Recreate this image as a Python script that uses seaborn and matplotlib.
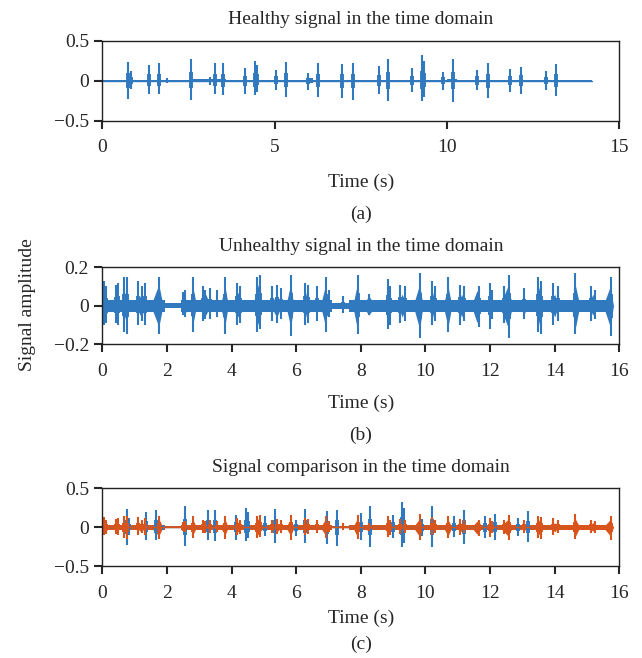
import numpy as np
import pandas as pd
import matplotlib.pyplot as plt
import seaborn as sns

# healthy signal: visible spikes (time s, upper peak, lower peak)
healthy_t = [0.75, 0.82, 1.35, 1.65, 1.88, 2.56, 3.12, 3.26, 3.50, 4.13, 4.44, 4.50,
             5.05, 5.34, 5.98, 6.27, 6.95, 7.27, 8.02, 8.29, 9.00, 9.28, 9.33, 9.90,
             10.19, 10.87, 11.18, 11.83, 12.14, 12.86, 13.16]
healthy_hi = [0.24, 0.12, 0.20, 0.22, 0.03, 0.27, 0.05, 0.22, 0.22, 0.16, 0.25, 0.20,
              0.14, 0.24, 0.10, 0.23, 0.21, 0.22, 0.18, 0.28, 0.16, 0.32, 0.25, 0.11,
              0.28, 0.14, 0.22, 0.15, 0.17, 0.12, 0.21]
healthy_lo = [-0.23, -0.10, -0.16, -0.17, -0.03, -0.24, -0.05, -0.16, -0.18, -0.16, -0.18, -0.14,
              -0.11, -0.20, -0.11, -0.20, -0.22, -0.24, -0.16, -0.25, -0.14, -0.25, -0.20, -0.11,
              -0.26, -0.12, -0.22, -0.14, -0.16, -0.11, -0.19]
healthy_end = 14.2
# low-level hum segments (start, end, level)
healthy_hum = [(0.0, 14.2, 0.005), (2.6, 3.6, 0.018), (4.0, 4.6, 0.014), (5.9, 6.1, 0.03),
               (7.35, 9.9, 0.014), (10.0, 10.3, 0.018), (11.0, 11.3, 0.014), (13.1, 13.5, 0.012)]

# unhealthy signal: spikes
unhealthy_t = [0.05, 0.13, 0.41, 0.48, 0.68, 0.78, 1.10, 1.22, 1.31, 1.77, 2.49, 2.55,
               2.80, 3.11, 3.19, 3.32, 3.55, 3.79, 4.18, 4.26, 4.80, 4.87, 5.26, 5.42,
               5.52, 5.83, 6.28, 6.38, 6.66, 6.92, 7.03, 7.45, 7.90, 8.24, 8.84, 8.91,
               9.22, 9.36, 9.84, 10.20, 10.31, 10.70, 11.08, 11.19, 11.65, 11.99, 12.07,
               12.43, 12.60, 13.05, 13.50, 13.58, 13.95, 14.09, 14.64, 15.12, 15.26, 15.74]
unhealthy_hi = [0.13, 0.10, 0.11, 0.12, 0.15, 0.15, 0.13, 0.10, 0.12, 0.15, 0.07, 0.08,
                0.15, 0.10, 0.08, 0.09, 0.08, 0.15, 0.12, 0.10, 0.15, 0.16, 0.10, 0.11,
                0.09, 0.16, 0.12, 0.11, 0.10, 0.15, 0.08, 0.05, 0.16, 0.06, 0.14, 0.10,
                0.11, 0.10, 0.17, 0.13, 0.10, 0.15, 0.11, 0.10, 0.10, 0.12, 0.08,
                0.10, 0.16, 0.09, 0.15, 0.13, 0.12, 0.10, 0.17, 0.10, 0.08, 0.15]
unhealthy_lo = [-0.10, -0.09, -0.09, -0.10, -0.14, -0.15, -0.10, -0.08, -0.10, -0.15, -0.05, -0.06,
                -0.14, -0.08, -0.07, -0.07, -0.06, -0.15, -0.10, -0.09, -0.14, -0.12, -0.08, -0.09,
                -0.07, -0.16, -0.10, -0.09, -0.08, -0.14, -0.06, -0.04, -0.15, -0.05, -0.12, -0.10,
                -0.09, -0.08, -0.17, -0.10, -0.08, -0.14, -0.10, -0.08, -0.11, -0.12, -0.07,
                -0.09, -0.17, -0.07, -0.14, -0.15, -0.10, -0.08, -0.15, -0.08, -0.07, -0.16]
# dense burst bodies (start, peak, end, upper, lower)
unhealthy_bursts = [
    (0.0, 0.05, 0.25, 0.07, -0.07), (0.6, 0.75, 0.85, 0.09, -0.09), (1.05, 1.2, 1.35, 0.06, -0.06),
    (1.5, 1.75, 1.88, 0.11, -0.11), (2.45, 2.55, 2.65, 0.05, -0.05), (2.7, 2.8, 2.92, 0.10, -0.10),
    (3.05, 3.2, 3.35, 0.06, -0.05), (3.65, 3.8, 3.9, 0.10, -0.10), (4.1, 4.2, 4.35, 0.07, -0.06),
    (4.65, 4.83, 4.95, 0.11, -0.10), (5.2, 5.4, 5.55, 0.06, -0.06), (5.68, 5.83, 5.93, 0.11, -0.11),
    (6.22, 6.32, 6.45, 0.07, -0.06), (6.75, 6.9, 7.0, 0.10, -0.10), (7.75, 7.88, 7.98, 0.10, -0.11),
    (8.05, 8.25, 8.45, 0.05, -0.05), (8.72, 8.85, 8.95, 0.09, -0.09), (9.15, 9.28, 9.42, 0.06, -0.06),
    (9.62, 9.82, 9.93, 0.11, -0.12), (10.15, 10.25, 10.35, 0.07, -0.06), (10.55, 10.7, 10.82, 0.10, -0.11),
    (11.0, 11.12, 11.25, 0.06, -0.06), (11.42, 11.6, 11.72, 0.08, -0.09), (11.92, 12.0, 12.1, 0.06, -0.06),
    (12.3, 12.55, 12.7, 0.10, -0.11), (12.95, 13.05, 13.15, 0.05, -0.05), (13.4, 13.53, 13.65, 0.10, -0.10),
    (13.88, 14.0, 14.12, 0.06, -0.06), (14.5, 14.65, 14.78, 0.10, -0.11), (15.05, 15.18, 15.32, 0.06, -0.05),
    (15.5, 15.72, 15.82, 0.10, -0.11)]
unhealthy_end = 15.82
unhealthy_hum = [(0.0, 1.95, 0.032), (1.95, 2.45, 0.012), (2.45, 7.1, 0.032),
                 (7.1, 7.65, 0.015), (7.65, 15.82, 0.032)]

BLUE = '#3079bf'
ORANGE = '#d9541a'
FS = 14

sns.set_theme(style='ticks')
plt.rcParams['font.family'] = ['Liberation Serif', 'DejaVu Serif']
plt.rcParams['font.size'] = FS
plt.rcParams['axes.unicode_minus'] = True


def spikes_df(t, hi, lo):
    return pd.DataFrame({
        't': list(t) + list(t),
        'amp': list(hi) + list(lo),
        'id': list(range(len(t))) * 2,
    })


def draw_signal(ax, t, hi, lo, hum, end, bursts, color):
    ax.plot([0, end], [0, 0], color=color, lw=1)
    for s, e, lvl in hum:
        ax.fill_between([s, e], [-lvl, -lvl], [lvl, lvl], color=color, lw=0)
    for s, p, e, up, dn in bursts:
        ax.fill_between([s, p, e], [0, dn, 0], [0, up, 0], color=color, lw=0)
    df = spikes_df(t, hi, lo)
    sns.lineplot(data=df, x='t', y='amp', units='id', estimator=None,
                 color=color, lw=1.5, ax=ax, legend=False, solid_capstyle='butt')
    df2 = df.copy()
    df2['amp'] = df2['amp'] * 0.4
    sns.lineplot(data=df2, x='t', y='amp', units='id', estimator=None,
                 color=color, lw=2.8, ax=ax, legend=False, solid_capstyle='butt')


def style_axis(ax, xmax, xstep, ylim, yticks, ylabels, title):
    ax.set_xlim(0, xmax)
    ax.set_ylim(-ylim, ylim)
    ax.set_xticks(np.arange(0, xmax + 0.1, xstep))
    ax.set_yticks(yticks)
    ax.set_yticklabels(ylabels)
    ax.set_title(title, fontsize=FS, pad=12)
    ax.set_xlabel('')
    ax.set_ylabel('')
    for sp in ax.spines.values():
        sp.set_visible(True)
        sp.set_linewidth(1.0)
        sp.set_color('#222222')
    ax.tick_params(direction='out', length=5.5, width=1.5, labelsize=FS,
                   top=False, right=False)
    ax.tick_params(axis='x', pad=8)
    ax.tick_params(axis='y', pad=4)


fig = plt.figure(figsize=(6.42, 6.58), dpi=100)
left, width = 0.1593, 0.8053
ax1 = fig.add_axes([left, 0.8166, width, 0.1211])
ax2 = fig.add_axes([left, 0.4772, width, 0.1166])
ax3 = fig.add_axes([left, 0.1398, width, 0.1178])

draw_signal(ax1, healthy_t, healthy_hi, healthy_lo, healthy_hum, healthy_end, [], BLUE)
style_axis(ax1, 15, 5, 0.5, [-0.5, 0, 0.5], ['\u22120.5', '0', '0.5'],
           'Healthy signal in the time domain')

draw_signal(ax2, unhealthy_t, unhealthy_hi, unhealthy_lo, unhealthy_hum, unhealthy_end,
            unhealthy_bursts, BLUE)
style_axis(ax2, 16, 2, 0.2, [-0.2, 0, 0.2], ['\u22120.2', '0', '0.2'],
           'Unhealthy signal in the time domain')

draw_signal(ax3, healthy_t, healthy_hi, healthy_lo, healthy_hum, healthy_end, [], BLUE)
draw_signal(ax3, unhealthy_t, unhealthy_hi, unhealthy_lo, unhealthy_hum, unhealthy_end,
            unhealthy_bursts, ORANGE)
style_axis(ax3, 16, 2, 0.5, [-0.5, 0, 0.5], ['\u22120.5', '0', '0.5'],
           'Signal comparison in the time domain')

for ax, lab, ly, py in [(ax1, '(a)', -0.77, -1.17), (ax2, '(b)', -0.77, -1.19),
                        (ax3, '(c)', -0.68, -1.01)]:
    ax.text(0.5, ly, 'Time (s)', transform=ax.transAxes, ha='center', va='center', fontsize=FS)
    ax.text(0.5, py, lab, transform=ax.transAxes, ha='center', va='center', fontsize=FS)

fig.text(0.043, 0.537, 'Signal amplitude', rotation=90, ha='center', va='center', fontsize=FS)

fig.savefig('out.png', dpi=100)
